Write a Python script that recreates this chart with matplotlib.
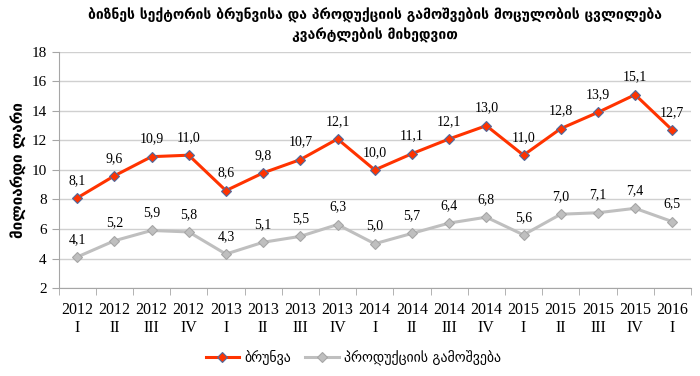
import numpy as np
import matplotlib.pyplot as plt

years = ["2012", "2012", "2012", "2012", "2013", "2013", "2013", "2013",
         "2014", "2014", "2014", "2014", "2015", "2015", "2015", "2015", "2016"]
quarters = ["I", "II", "III", "IV", "I", "II", "III", "IV",
            "I", "II", "III", "IV", "I", "II", "III", "IV", "I"]
turnover = [8.1, 9.6, 10.9, 11.0, 8.6, 9.8, 10.7, 12.1,
            10.0, 11.1, 12.1, 13.0, 11.0, 12.8, 13.9, 15.1, 12.7]
output = [4.1, 5.2, 5.9, 5.8, 4.3, 5.1, 5.5, 6.3,
          5.0, 5.7, 6.4, 6.8, 5.6, 7.0, 7.1, 7.4, 6.5]

title = ("ბიზნეს სექტორის ბრუნვისა და პროდუქციის გამოშვების მოცულობის ცვლილება\n"
         "კვარტლების მიხედვით")
ylabel = "მილიარდი ლარი"
labels = ["ბრუნვა", "პროდუქციის გამოშვება"]

serif = "Liberation Serif"

fig = plt.figure(figsize=(7.0, 3.76), dpi=100)
ax = fig.add_axes([0.0836, 0.234, 0.9034, 0.628])

x = np.arange(len(years))
ax.plot(x, turnover, color="#FF3300", lw=2.2, marker="D", ms=5.5,
        mfc="#FF3300", mec="#4F6A9E", mew=0.8, label=labels[0], zorder=3)
ax.plot(x, output, color="#BFBFBF", lw=2.2, marker="D", ms=5.5,
        mfc="#BFBFBF", mec="#A6A6A6", mew=0.8, label=labels[1], zorder=3)

for xi, v in zip(x, turnover):
    ax.annotate(f"{v:.1f}".replace(".", ","), (xi, v), xytext=(0, 8),
                textcoords="offset points", ha="center", va="bottom",
                fontsize=10, family=serif)
for xi, v in zip(x, output):
    ax.annotate(f"{v:.1f}".replace(".", ","), (xi, v), xytext=(0, 8),
                textcoords="offset points", ha="center", va="bottom",
                fontsize=10, family=serif)

ax.set_xlim(-0.5, len(years) - 0.5)
ax.set_ylim(2, 18)
ax.set_yticks(np.arange(2, 19, 2))
ax.set_xticks(x)
ax.set_xticklabels([f"{y}\n{q}" for y, q in zip(years, quarters)],
                   family=serif, fontsize=11.5)
ax.set_xticks(np.arange(-0.5, len(years), 1), minor=True)
ax.tick_params(axis="x", which="major", length=0, pad=10)
ax.tick_params(axis="x", which="minor", length=5, color="#A6A6A6")
ax.tick_params(axis="y", length=5, color="#A6A6A6", labelsize=11)
for lab in ax.get_yticklabels():
    lab.set_family(serif)

ax.grid(axis="y", color="#D0D0D0", lw=1)
ax.set_axisbelow(True)
for side in ["top", "right"]:
    ax.spines[side].set_visible(False)
for side in ["left", "bottom"]:
    ax.spines[side].set_color("#A6A6A6")

ax.set_ylabel(ylabel, fontsize=11, labelpad=4, family="DejaVu Sans",
              fontweight="bold")
fig.text(0.535, 0.98, title, ha="center", va="top", fontsize=10,
         fontweight="bold", family="DejaVu Sans", linespacing=1.45)

fig.legend(loc="center", bbox_to_anchor=(0.505, 0.048), ncol=2, frameon=False,
           fontsize=10, handlelength=2.4, handletextpad=0.4, columnspacing=1.0)

fig.savefig("out.png", dpi=100)
